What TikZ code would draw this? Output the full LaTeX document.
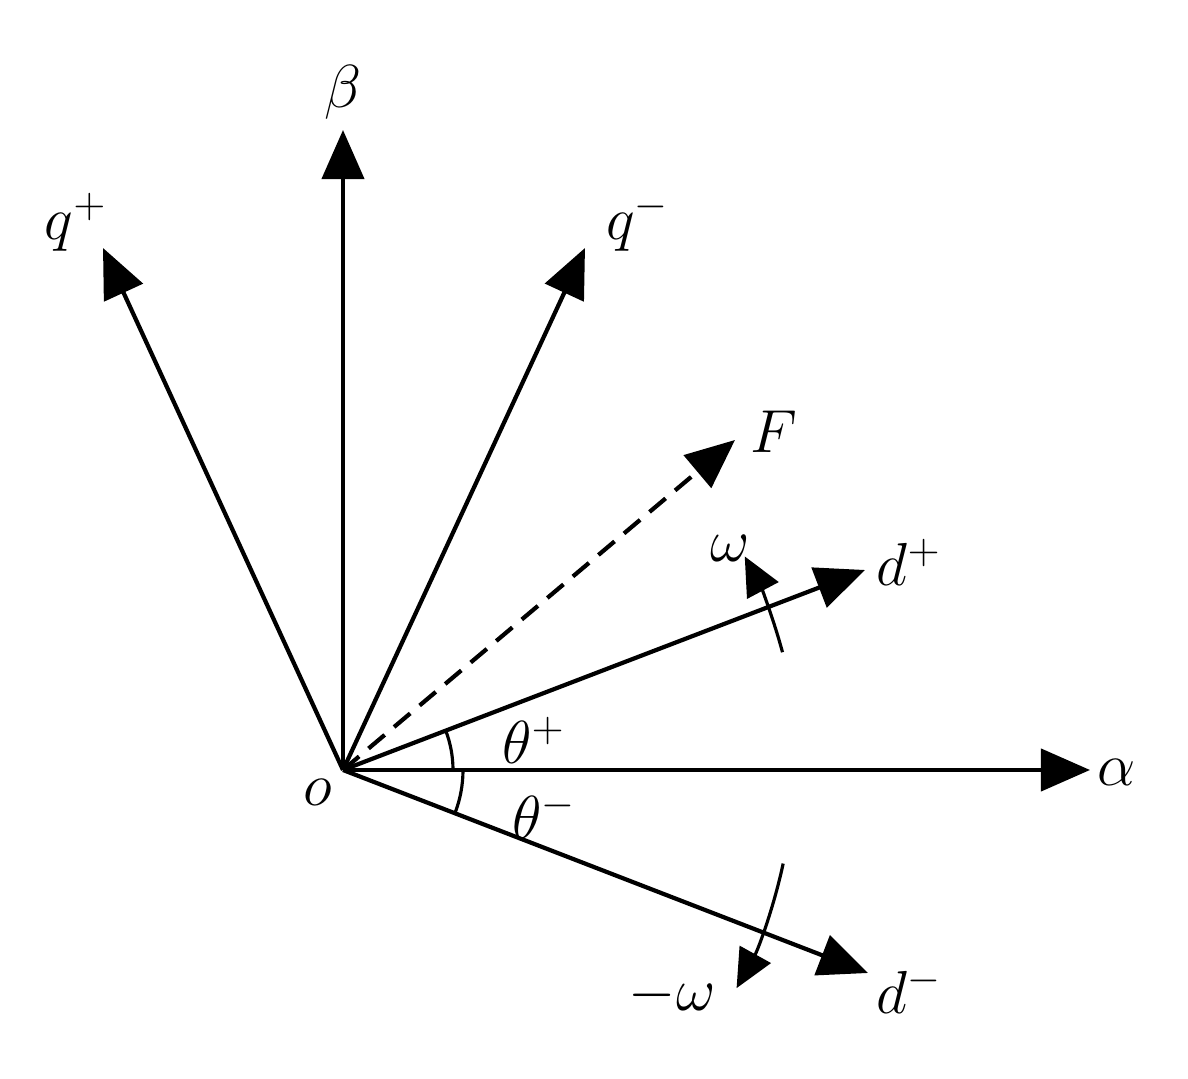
\documentclass[tikz,border=0pt]{standalone}
\usepackage{amsmath}
\usepackage{tikz}
\usetikzlibrary{arrows.meta}

\tikzset{
    vec/.style={-{Triangle[length=14pt,width=12pt]}, line width=1.2pt},
    lbl/.style={font=\fontsize{18}{22}\selectfont}
}

\begin{document}
\begin{tikzpicture}
    \useasboundingbox (0,0) rectangle (11.88,10.79);
    % Nodes
    \coordinate (o) at (3.43,3.09);
    \coordinate (alpha) at (10.90,3.09);
    \coordinate (beta) at (3.43,9.49);
    \coordinate (qp) at (1.03,8.31);
    \coordinate (qm) at (5.85,8.31);
    \coordinate (f) at (7.35,6.39);
    \coordinate (dp) at (8.65,5.09);
    \coordinate (dm) at (8.68,1.06);
    \node[lbl] at (3.18,2.87) {$o$};
    \node[lbl] at (11.17,3.07) {$\alpha$};
    \node[lbl] at (3.43,9.87) {$\beta$};
    \node[lbl] at (0.76,8.57) {$q^{+}$};
    \node[lbl] at (6.38,8.57) {$q^{-}$};
    \node[lbl] at (7.74,6.47) {$F$};
    \node[lbl] at (9.09,5.17) {$d^{+}$};
    \node[lbl] at (9.09,0.89) {$d^{-}$};
    \node[lbl] at (5.34,3.39) {$\theta^{+}$};
    \node[lbl] at (5.44,2.64) {$\theta^{-}$};
    \node[lbl] at (7.30,5.31) {$\omega$};
    \node[lbl] at (6.72,0.84) {$-\omega$};
    % Arrows
    \draw[vec] (o) -- (alpha);
    \draw[vec] (o) -- (beta);
    \draw[vec] (o) -- (qp);
    \draw[vec] (o) -- (qm);
    \draw[vec, dash pattern=on 6pt off 3.5pt] (o) -- (f);
    \draw[vec] (o) -- (dp);
    \draw[vec] (o) -- (dm);
    % Angles
    \draw[line width=0.9pt] ([shift={(0:1.1)}]o) arc (0:21:1.1);
    \draw[line width=0.9pt] ([shift={(0:1.2)}]o) arc (0:-21:1.2);
    \draw[-{Triangle[length=11pt,width=10pt]}, line width=0.9pt] ([shift={(15:4.55)}]o) arc (15:28:4.55);
    \draw[-{Triangle[length=11pt,width=10pt]}, line width=0.9pt] ([shift={(-12:4.5)}]o) arc (-12:-29:4.5);
\end{tikzpicture}
\end{document}
